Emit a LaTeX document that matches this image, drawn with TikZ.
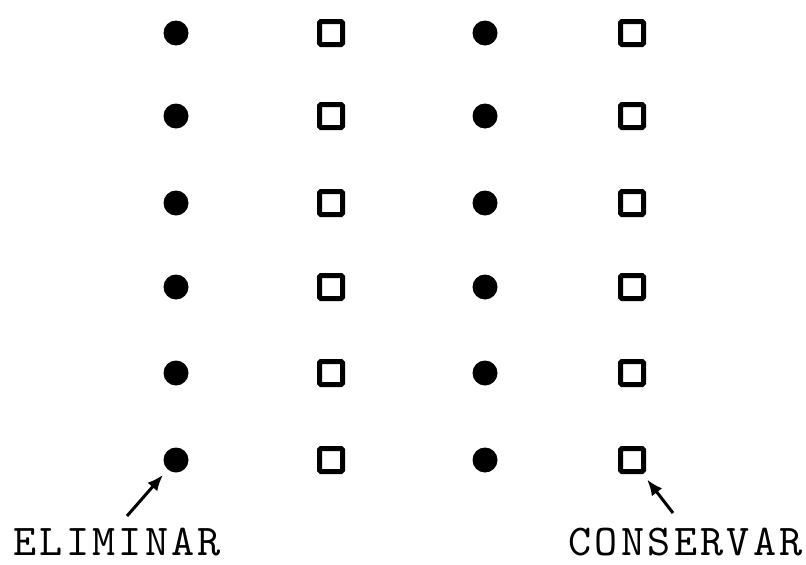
\documentclass[tikz,border=0pt]{standalone}
\usepackage{fontspec}
\newfontfamily\typewriter{lmmono10-regular.otf}[LetterSpace=7.5]
\usetikzlibrary{arrows.meta, positioning}

\tikzset{
  dot/.style={circle, fill, inner sep=0pt, minimum size=25pt},
  box/.style={draw, line width=5pt, rounded corners=1.5pt, inner sep=0pt, minimum size=23pt},
  pointer/.style={line width=3pt, -{Latex[length=16pt,width=13pt]}, shorten >=7pt},
  wordlabel/.style={inner sep=0pt, text depth=0pt, font=\typewriter\fontsize{44}{44}\selectfont}
}

\begin{document}
\begin{tikzpicture}[x=1pt, y=-1pt]
\useasboundingbox (0,0) rectangle (806,565);
% rows of dots and boxes
\foreach \r/\y in {1/33, 2/116, 3/203, 4/287, 5/373, 6/460} {
  \node[dot] (a\r) at (176,\y) {};
  \node[box] (b\r) at (331,\y) {};
  \node[dot] (c\r) at (485,\y) {};
  \node[box] (d\r) at (632,\y) {};
}
\node[wordlabel, anchor=base west] (elim) at (13,555) {ELIMINAR};
\node[wordlabel, anchor=base east] (cons) at (803,555) {CONSERVAR};
\coordinate (elimtail) at (127,516);
\coordinate (constail) at (673,513);
\draw[pointer] (elimtail) -- (a6);
\draw[pointer] (constail) -- (d6);
\end{tikzpicture}
\end{document}
